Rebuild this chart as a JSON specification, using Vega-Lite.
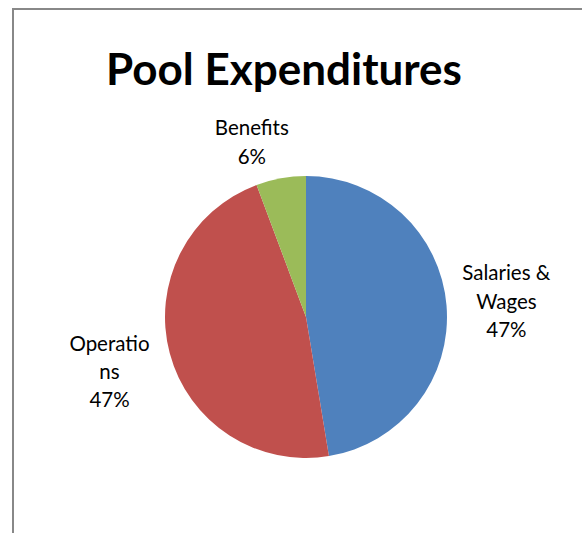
{
  "$schema": "https://vega.github.io/schema/vega-lite/v6.json",
  "autosize": {"type": "none"},
  "padding": {"left": 13, "top": 9, "right": 0, "bottom": 0},
  "width": 586,
  "height": 616,
  "background": "white",
  "view": {"stroke": "#888888", "strokeWidth": 2, "fill": "white"},
  "title": {
    "text": "Pool Expenditures",
    "font": "Lato",
    "fontSize": 44,
    "fontWeight": "bold",
    "color": "black",
    "anchor": "middle",
    "frame": "group",
    "baseline": "alphabetic",
    "offset": -120,
    "dx": -22
  },
  "data": {
    "values": [
      {"category": "Salaries & Wages", "value": 47.4, "k": 1, "label": "Salaries &\nWages\n47%"},
      {"category": "Operations", "value": 46.9, "k": 2, "label": "Operatio\nns\n47%"},
      {"category": "Benefits", "value": 5.7, "k": 3, "label": "Benefits\n6%"}
    ]
  },
  "encoding": {
    "theta": {"field": "value", "type": "quantitative", "stack": true},
    "order": {"field": "k", "type": "ordinal"},
    "color": {
      "field": "category",
      "type": "nominal",
      "scale": {
        "domain": ["Salaries & Wages", "Operations", "Benefits"],
        "range": ["#4F81BD", "#C0504D", "#9BBB59"]
      },
      "legend": null
    }
  },
  "layer": [
    {
      "mark": {"type": "arc", "outerRadius": 141}
    },
    {
      "mark": {"type": "text", "radius": 192, "dx": 9, "dy": -27, "font": "Lato", "fontSize": 20.5, "lineHeight": 28.5, "lineBreak": "\n", "align": "center", "baseline": "middle"},
      "encoding": {
        "text": {"condition": {"test": "datum.category === 'Salaries & Wages'", "field": "label"}, "value": ""},
        "color": {"value": "black"}
      }
    },
    {
      "mark": {"type": "text", "radius": 192, "dx": -11, "dy": -21, "font": "Lato", "fontSize": 20.5, "lineHeight": 28, "lineBreak": "\n", "align": "center", "baseline": "middle"},
      "encoding": {
        "text": {"condition": {"test": "datum.category === 'Operations'", "field": "label"}, "value": ""},
        "color": {"value": "black"}
      }
    },
    {
      "mark": {"type": "text", "radius": 192, "dx": -20, "dy": 1, "font": "Lato", "fontSize": 20.5, "lineHeight": 29, "lineBreak": "\n", "align": "center", "baseline": "middle"},
      "encoding": {
        "text": {"condition": {"test": "datum.category === 'Benefits'", "field": "label"}, "value": ""},
        "color": {"value": "black"}
      }
    }
  ],
  "config": {
    "view": {"stroke": "#888888", "strokeWidth": 2}
  }
}
